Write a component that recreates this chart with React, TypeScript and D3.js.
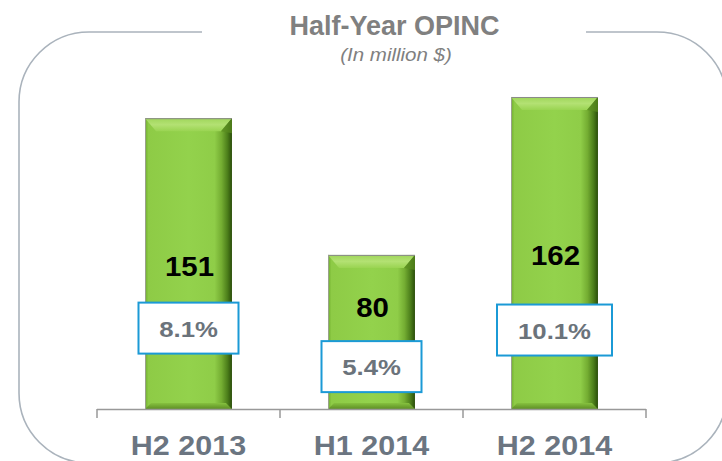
import React from "react";
import * as d3 from "d3";

const categories = ["H2 2013", "H1 2014", "H2 2014"];
const values = [151, 80, 162];
const margins = ["8.1%", "5.4%", "10.1%"];
// vertical placement (in value units) of the value labels and margin boxes
const labelLevels = [74, 53, 80];
const boxLevels = [42, 22, 41];

const W = 722;
const H = 461;

function STxt(props: {
  x: number;
  y: number;
  size: number;
  fill: string;
  sx?: number;
  weight?: string;
  italic?: boolean;
  children: React.ReactNode;
}) {
  const { x, y, size, fill, sx = 1.1, weight = "bold", italic = false } = props;
  return (
    <text
      transform={`translate(${x},${y}) scale(${sx},1)`}
      textAnchor="middle"
      fontFamily="Arial, 'Liberation Sans', sans-serif"
      fontSize={size}
      fontWeight={weight}
      fontStyle={italic ? "italic" : "normal"}
      fill={fill}
    >
      {props.children}
    </text>
  );
}

export default function App() {
  const x = d3.scaleBand<string>().domain(categories).range([97, 646]).padding(0);
  const y = d3.scaleLinear().domain([0, 180]).range([409, 409 - 1.926 * 180]);
  const barW = x.bandwidth() * 0.475;

  // frame
  const fl = 19, fr = 727, ft = 32, fb = 463, r = 70;
  const frame = d3.path();
  frame.moveTo(202, ft);
  frame.lineTo(fl + r, ft);
  frame.arcTo(fl, ft, fl, ft + r, r);
  frame.lineTo(fl, fb - r);
  frame.arcTo(fl, fb, fl + r, fb, r);
  frame.lineTo(fr - r, fb);
  frame.arcTo(fr, fb, fr, fb - r, r);
  frame.lineTo(fr, ft + r);
  frame.arcTo(fr, ft, fr - r, ft, r);
  frame.lineTo(586, ft);

  const y0 = y(0);
  const ticks = [0, 1, 2, 3].map((i) => 97 + i * x.step());

  return (
    <svg
      width={W}
      height={H}
      style={{ position: "absolute", left: 0, top: 0, background: "#fff" }}
    >
      <defs>
        <linearGradient id="barH" x1="0" x2="1" y1="0" y2="0">
          <stop offset="0%" stopColor="#6fae2c" />
          <stop offset="4%" stopColor="#8ecb46" />
          <stop offset="50%" stopColor="#93d24c" />
          <stop offset="80%" stopColor="#8fcd48" />
          <stop offset="88%" stopColor="#74ad32" />
          <stop offset="95%" stopColor="#4b7d1a" />
          <stop offset="100%" stopColor="#2a4d0a" />
        </linearGradient>
        <linearGradient id="bevTop" x1="0" x2="0" y1="0" y2="1">
          <stop offset="0%" stopColor="#9fd65a" />
          <stop offset="50%" stopColor="#b3e173" />
          <stop offset="100%" stopColor="#9ad452" />
        </linearGradient>
        <linearGradient id="bevBot" x1="0" x2="0" y1="0" y2="1">
          <stop offset="0%" stopColor="#86c13f" />
          <stop offset="100%" stopColor="#5e8f24" />
        </linearGradient>
      </defs>

      <path d={frame.toString()} fill="none" stroke="#aab3bc" strokeWidth={1.6} />

      <STxt x={394.5} y={35} size={27} fill="#808080" sx={1.0}>
        Half-Year OPINC
      </STxt>
      <STxt x={396} y={61} size={19} fill="#808080" weight="normal" italic sx={1.08}>
        (In million $)
      </STxt>

      {categories.map((c, i) => {
        const cx = (x(c) as number) + x.bandwidth() / 2;
        const x0 = cx - barW / 2;
        const x1 = cx + barW / 2;
        const yt = y(values[i]);
        const bev = 11;
        return (
          <g key={c}>
            <rect x={x0} y={yt} width={barW} height={y0 - yt} fill="url(#barH)" />
            <polygon
              points={`${x0},${yt} ${x1},${yt} ${x1 - bev},${yt + bev + 2} ${x0 + bev},${yt + bev + 2}`}
              fill="url(#bevTop)"
            />
            <polygon
              points={`${x1},${yt} ${x1},${yt + bev + 4} ${x1 - bev},${yt + bev + 2}`}
              fill="#5a8d20"
              opacity={0.7}
            />
            <polygon
              points={`${x0 + 6},${y0 - 6} ${x1 - 6},${y0 - 6} ${x1},${y0} ${x0},${y0}`}
              fill="url(#bevBot)"
            />
            <line x1={x0} x2={x1} y1={yt + 0.5} y2={yt + 0.5} stroke="#8a8a8a" strokeWidth={1} />
            <line x1={x0 + 0.5} x2={x0 + 0.5} y1={yt} y2={y0} stroke="#9aa08f" strokeWidth={1} />
          </g>
        );
      })}

      <line x1={97} x2={646} y1={y0 + 0.5} y2={y0 + 0.5} stroke="#999" strokeWidth={1.5} />
      {ticks.map((t) => (
        <line key={t} x1={t} x2={t} y1={y0} y2={y0 + 9} stroke="#999" strokeWidth={1.5} />
      ))}

      {categories.map((c, i) => {
        const cx = (x(c) as number) + x.bandwidth() / 2;
        const ly = y(labelLevels[i]);
        const by = y(boxLevels[i]);
        const bw = 40 + 15 * margins[i].length;
        const bh = 51;
        return (
          <g key={c + "lbl"}>
            <STxt x={cx + 1} y={ly + 10} size={28} fill="#000" sx={1.05}>
              {values[i]}
            </STxt>
            <rect
              x={cx - bw / 2}
              y={by - bh / 2}
              width={bw}
              height={bh}
              fill="#fff"
              stroke="#1b9ad6"
              strokeWidth={2}
            />
            <STxt x={cx} y={by + 8.5} size={23} fill="#6b737b" sx={1.12}>
              {margins[i]}
            </STxt>
            <STxt x={cx} y={455} size={27} fill="#6b7581" sx={1.13}>
              {c}
            </STxt>
          </g>
        );
      })}
    </svg>
  );
}
